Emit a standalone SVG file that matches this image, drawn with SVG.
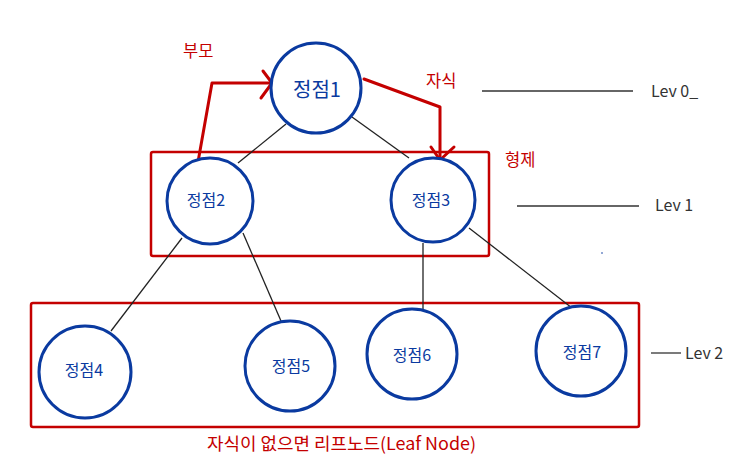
<svg xmlns="http://www.w3.org/2000/svg" width="731" height="470" viewBox="0 0 731 470">
<defs>
<style>
.node circle{fill:#fff;stroke:#0a3aa0;stroke-width:3}
.nt{font-family:"Noto Sans CJK KR","Noto Sans",sans-serif;fill:#0a3aa0;font-size:16px;text-anchor:middle}
.edge{stroke:#222;stroke-width:1.3;fill:none}
.red{stroke:#c40000;stroke-width:3;fill:none;stroke-linejoin:round;stroke-linecap:round}
.box{stroke:#c40000;stroke-width:2.5;fill:none}
.rt{font-family:"Noto Sans CJK KR","Noto Sans",sans-serif;fill:#c40000;font-size:16.5px}
.lev{font-family:"Noto Sans CJK KR","Noto Sans",sans-serif;fill:#333;font-size:16px}
.lvl{stroke:#333;stroke-width:1.3}
</style>
</defs>
<rect width="731" height="470" fill="#fff"/>
<g id="boxes">
<rect class="box" x="151" y="152" width="338" height="104" rx="2"/>
<rect class="box" x="31" y="303" width="608" height="124" rx="2"/>
</g>
<g id="connectors">
<line class="edge" x1="286" y1="124" x2="238" y2="163"/>
<line class="edge" x1="352" y1="117" x2="409" y2="158"/>
<line class="edge" x1="182" y1="238" x2="111" y2="331"/>
<line class="edge" x1="243" y1="233" x2="281" y2="321"/>
<line class="edge" x1="423" y1="243" x2="423" y2="310"/>
<line class="edge" x1="469" y1="228" x2="572" y2="308"/>
<polyline class="red" points="198,162 212,83 271,83"/>
<polyline class="red" points="263,71 272,83 261,98"/>
<polyline class="red" points="364,79 440,107 440,160"/>
<polyline class="red" points="431,147 440,160 454,147"/>
<line class="lvl" x1="482" y1="91" x2="633" y2="91"/>
<line class="lvl" x1="517" y1="206" x2="639" y2="206"/>
<line class="lvl" x1="651" y1="353" x2="681" y2="353"/>
</g>
<g id="n1" class="node"><circle cx="316" cy="88" r="45"/><text class="nt" x="317" y="97" style="font-size:20px">정점1</text></g>
<g id="n2" class="node"><circle cx="210" cy="201" r="43"/><text class="nt" x="206" y="206">정점2</text></g>
<g id="n3" class="node"><circle cx="433" cy="200" r="42"/><text class="nt" x="431" y="206">정점3</text></g>
<g id="n4" class="node"><circle cx="85" cy="372" r="46"/><text class="nt" x="84" y="376">정점4</text></g>
<g id="n5" class="node"><circle cx="290" cy="366" r="45"/><text class="nt" x="291" y="372">정점5</text></g>
<g id="n6" class="node"><circle cx="412" cy="354" r="45"/><text class="nt" x="412" y="361">정점6</text></g>
<g id="n7" class="node"><circle cx="581" cy="351" r="45"/><text class="nt" x="582" y="358">정점7</text></g>
<g id="labels">
<text class="rt" x="183" y="57">부모</text>
<text class="rt" x="426" y="87">자식</text>
<text class="rt" x="505" y="166">형제</text>
<text class="rt" x="207" y="450" style="font-size:17.5px" textLength="269" lengthAdjust="spacingAndGlyphs">자식이 없으면 리프노드(Leaf Node)</text>
<text class="lev" x="651" y="97">Lev 0_</text>
<text class="lev" x="655" y="211">Lev 1</text>
<text class="lev" x="685" y="359">Lev 2</text>
<circle cx="602" cy="253" r="0.8" fill="#0a3aa0"/>
</g>
</svg>
